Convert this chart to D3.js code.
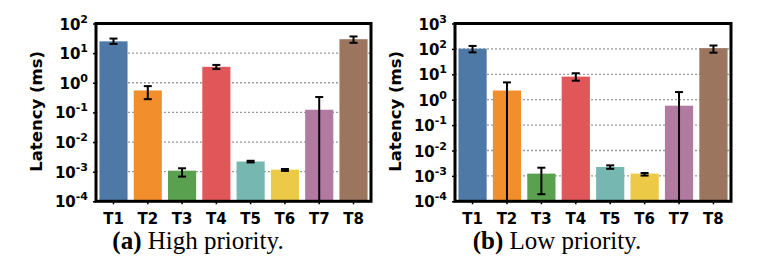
<!DOCTYPE html>
<html><head><meta charset="utf-8">
<script src="https://cdn.jsdelivr.net/npm/d3@7"></script>
<style>
html,body{margin:0;padding:0;background:#fff;}
svg{display:block;}
</style></head>
<body>
<svg id="chart" width="778" height="270"></svg>
<script>
const tasks = ["T1","T2","T3","T4","T5","T6","T7","T8"];
const colors = ["#4e79a7","#f28e2b","#59a14f","#e15759","#76b7b2","#edc948","#b07aa1","#9c755f"];

// High priority (ms)
const highMean = [25, 0.55, 0.00108, 3.45, 0.0022, 0.00117, 0.123, 29.5];
const highLow  = [20.5, 0.28, 0.00068, 2.9, 0.00205, 0.00106, 0, 22.3];
const highHigh = [31, 0.77, 0.0013, 4.0, 0.00233, 0.00123, 0.33, 36.5];

// Low priority (ms)
const lowMean = [102, 2.3, 0.00123, 8.1, 0.00225, 0.00123, 0.58, 107];
const lowLow  = [73, 0, 0.00019, 5.6, 0.0019, 0.00103, 0, 71];
const lowHigh = [131, 4.8, 0.0021, 11, 0.0026, 0.0013, 2.0, 136];

const highExps = [-4,-3,-2,-1,0,1,2];
const lowExps = [-4,-3,-2,-1,0,1,2,3];

const svg = d3.select("#chart");
const sans = "'DejaVu Sans', Verdana, sans-serif";

function panel(cfg) {
  const {x0, x1, y0, y1, exps, mean, lo, hi, caption, capLetter, capX, labelX} = cfg;
  const g = svg.append("g");
  const x = d3.scaleBand().domain(tasks).range([x0, x1]).paddingInner(0.18).paddingOuter(0.1);
  const y = d3.scaleLog().domain([Math.pow(10, exps[0]), Math.pow(10, exps[exps.length-1])]).range([y1, y0]).clamp(true);
  const ticks = exps.map(e => Math.pow(10, e));

  // gridlines
  g.append("g").selectAll("line").data(ticks.slice(1, -1)).join("line")
    .attr("x1", x0).attr("x2", x1)
    .attr("y1", d => y(d)).attr("y2", d => y(d))
    .attr("stroke", "#9a9a9a").attr("stroke-width", 1.3).attr("stroke-dasharray", "2,2");

  // bars
  g.append("g").selectAll("rect").data(tasks).join("rect")
    .attr("x", d => x(d)).attr("width", x.bandwidth())
    .attr("y", (d, i) => y(mean[i])).attr("height", (d, i) => y1 - y(mean[i]))
    .attr("fill", (d, i) => colors[i]);

  // error bars
  const eb = g.append("g").attr("stroke", "#000").attr("stroke-width", 2);
  tasks.forEach((t, i) => {
    const cx = x(t) + x.bandwidth() / 2;
    const top = y(hi[i]);
    const bot = lo[i] > 0 ? y(lo[i]) : y1;
    eb.append("line").attr("x1", cx).attr("x2", cx).attr("y1", top).attr("y2", bot);
    eb.append("line").attr("x1", cx - 4).attr("x2", cx + 4).attr("y1", top).attr("y2", top);
    if (lo[i] > 0) eb.append("line").attr("x1", cx - 4).attr("x2", cx + 4).attr("y1", bot).attr("y2", bot);
  });

  // frame
  g.append("rect").attr("x", x0).attr("y", y0).attr("width", x1 - x0).attr("height", y1 - y0)
    .attr("fill", "none").attr("stroke", "#000").attr("stroke-width", 3);

  // y axis ticks and labels
  const yAxis = d3.axisLeft(y).tickValues(ticks).tickSize(3).tickFormat("");
  const ya = g.append("g").attr("transform", `translate(${x0},0)`).call(yAxis);
  ya.select(".domain").remove();
  ya.selectAll(".tick line").attr("stroke", "#000").attr("stroke-width", 1.5);
  const lbl = g.append("g").selectAll("text").data(exps).join("text")
    .attr("x", x0 - 8).attr("y", d => y(Math.pow(10, d)) + 6)
    .attr("text-anchor", "end").attr("font-family", sans).attr("font-weight", "bold").attr("font-size", 15);
  lbl.append("tspan").text("10");
  lbl.append("tspan").attr("dy", -7).attr("font-size", 11).text(d => d);

  // x axis ticks and labels
  const xAxis = d3.axisBottom(x).tickSize(3).tickPadding(6);
  const xa = g.append("g").attr("transform", `translate(0,${y1})`).call(xAxis);
  xa.select(".domain").remove();
  xa.selectAll(".tick line").attr("stroke", "#000").attr("stroke-width", 1.5);
  xa.selectAll(".tick text").attr("font-family", sans).attr("font-weight", "bold")
    .attr("font-size", 15).attr("fill", "#000").attr("dy", "0.9em");

  // y label
  g.append("text").attr("transform", `translate(${labelX},${(y0 + y1) / 2 - 1}) rotate(-90)`)
    .attr("text-anchor", "middle").attr("font-family", sans).attr("font-weight", "bold")
    .attr("font-size", 16.5).text("Latency (ms)");

  // caption
  const cap = g.append("text").attr("x", capX).attr("y", 249).attr("text-anchor", "middle")
    .attr("font-family", "'Liberation Serif', 'Times New Roman', serif").attr("font-size", 25);
  cap.append("tspan").attr("font-weight", "bold").text(capLetter);
  cap.append("tspan").text(caption);
}

panel({x0: 96, x1: 371, y0: 23.5, y1: 201.3, exps: highExps, mean: highMean, lo: highLow, hi: highHigh,
  capLetter: "(a)", caption: " High priority.", capX: 198, labelX: 42});
panel({x0: 455, x1: 731, y0: 23.5, y1: 201.3, exps: lowExps, mean: lowMean, lo: lowLow, hi: lowHigh,
  capLetter: "(b)", caption: " Low priority.", capX: 557, labelX: 401});
</script>
</body></html>
